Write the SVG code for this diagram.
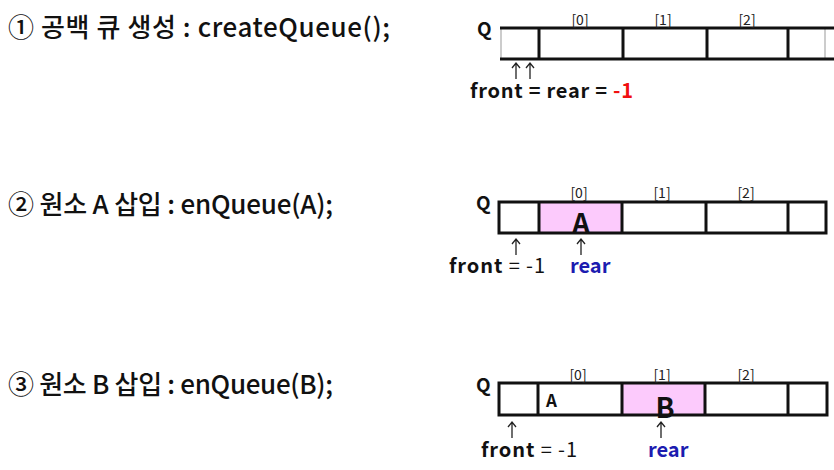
<svg xmlns="http://www.w3.org/2000/svg" width="834" height="470" viewBox="0 0 834 470">
<style>
.title{font-family:"Noto Sans CJK KR","Noto Sans",sans-serif;font-size:26px;font-weight:500;fill:#111}
.q{font-family:"Noto Sans CJK KR","Noto Sans",sans-serif;font-size:19px;font-weight:700;fill:#111}
.idx{font-family:"Noto Sans CJK KR","Noto Sans",sans-serif;font-size:14px;fill:#222;text-anchor:middle}
.lbl{font-family:"Noto Sans CJK KR","Noto Sans",sans-serif;font-size:20px;fill:#111}
.b{font-weight:700}
.blue{fill:#1c1cb0;font-weight:700}
.red{fill:#f01010;font-weight:700}
.big{font-family:"Noto Sans CJK KR","Noto Sans",sans-serif;font-size:28px;font-weight:700;fill:#111;text-anchor:middle}
.cell{fill:none;stroke:#111;stroke-width:3}
.pink{fill:#fccafc}
.arr{fill:none;stroke:#222;stroke-width:1.3}
</style>
<rect width="834" height="470" fill="#fff"/>

<g id="title1"><text class="title" x="8" y="37" textLength="382" lengthAdjust="spacing">① 공백 큐 생성 : createQueue();</text></g>
<g id="title2"><text class="title" x="8" y="214" textLength="325" lengthAdjust="spacing">② 원소 A 삽입 : enQueue(A);</text></g>
<g id="title3"><text class="title" x="8" y="394" textLength="325" lengthAdjust="spacing">③ 원소 B 삽입 : enQueue(B);</text></g>

<g id="queue1">
  <text class="q" x="477" y="36">Q</text>
  <line x1="501" y1="28" x2="501" y2="59" stroke="#bbb" stroke-width="1.5"/>
  <line x1="825" y1="28" x2="825" y2="59" stroke="#bbb" stroke-width="1.5"/>
  <line x1="500" y1="28" x2="834" y2="28" class="cell"/>
  <line x1="500" y1="59" x2="834" y2="59" class="cell"/>
  <line x1="539" y1="28" x2="539" y2="59" class="cell"/>
  <line x1="623" y1="28" x2="623" y2="59" class="cell"/>
  <line x1="707" y1="28" x2="707" y2="59" class="cell"/>
  <line x1="788" y1="28" x2="788" y2="59" class="cell"/>
  <text class="idx" x="580" y="25">[0]</text>
  <text class="idx" x="663" y="25">[1]</text>
  <text class="idx" x="747" y="25">[2]</text>
  <text class="lbl" x="470" y="98" textLength="163" lengthAdjust="spacing"><tspan class="b">front</tspan> <tspan class="b">=</tspan> <tspan class="b">rear</tspan> <tspan class="b">=</tspan> <tspan class="red">-1</tspan></text>
</g>

<g id="queue2">
  <text class="q" x="476" y="210">Q</text>
  <rect x="539" y="202" width="83" height="31" class="pink"/>
  <rect x="499" y="202" width="327" height="31" class="cell"/>
  <line x1="539" y1="202" x2="539" y2="233" class="cell"/>
  <line x1="622" y1="202" x2="622" y2="233" class="cell"/>
  <line x1="706" y1="202" x2="706" y2="233" class="cell"/>
  <line x1="788" y1="202" x2="788" y2="233" class="cell"/>
  <text class="idx" x="579" y="198">[0]</text>
  <text class="idx" x="662" y="198">[1]</text>
  <text class="idx" x="746" y="198">[2]</text>
  <text class="big" x="581" y="234">A</text>
  <text class="lbl" x="449" y="273" textLength="96" lengthAdjust="spacing"><tspan class="b">front</tspan> = -1</text>
  <text class="lbl" x="570" y="273"><tspan class="blue">rear</tspan></text>
</g>

<g id="queue3">
  <text class="q" x="476" y="392">Q</text>
  <rect x="622" y="383" width="83" height="32" class="pink"/>
  <rect x="499" y="383" width="328" height="32" class="cell"/>
  <line x1="538" y1="383" x2="538" y2="415" class="cell"/>
  <line x1="622" y1="383" x2="622" y2="415" class="cell"/>
  <line x1="705" y1="383" x2="705" y2="415" class="cell"/>
  <line x1="788" y1="383" x2="788" y2="415" class="cell"/>
  <text class="idx" x="578" y="380">[0]</text>
  <text class="idx" x="662" y="380">[1]</text>
  <text class="idx" x="746" y="380">[2]</text>
  <text class="q" x="546" y="407" style="font-size:17px">A</text>
  <text class="big" x="665" y="418">B</text>
  <text class="lbl" x="481" y="457" textLength="96" lengthAdjust="spacing"><tspan class="b">front</tspan> = -1</text>
  <text class="lbl" x="648" y="457"><tspan class="blue">rear</tspan></text>
</g>

<g id="connectors">
  <path class="arr" d="M516 79V64M512 68L516 63L520 68"/>
  <path class="arr" d="M530 79V64M526 68L530 63L534 68"/>
  <path class="arr" d="M516 255V240M512 244L516 239L520 244"/>
  <path class="arr" d="M581 255V240M577 244L581 239L585 244"/>
  <path class="arr" d="M512 438V423M508 427L512 422L516 427"/>
  <path class="arr" d="M661 438V423M657 427L661 422L665 427"/>
</g>
</svg>
